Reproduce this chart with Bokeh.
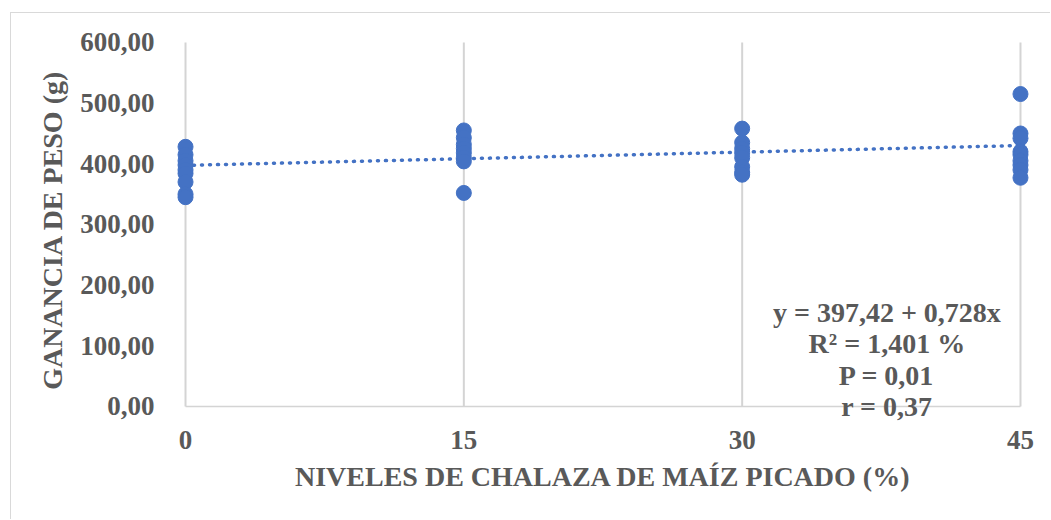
from bokeh.plotting import figure
from bokeh.models import Range1d, FixedTicker, Label
from bokeh.embed import file_html
from bokeh.resources import INLINE

# Weight gain (g) per level of chopped corn husk (%)
levels = [0, 15, 30, 45]
gain_0 = [428, 415, 405, 398, 390, 384, 370, 350, 345]
gain_15 = [455, 443, 432, 425, 418, 410, 404, 352]
gain_30 = [458, 435, 425, 418, 410, 395, 386, 382]
gain_45 = [515, 450, 442, 420, 415, 405, 398, 390, 377]

# Regression summary
intercept = 397.42
slope = 0.728
stats_lines = ["y = 397,42 + 0,728x", "R² = 1,401 %", "P = 0,01", "r = 0,37"]
stats_y = [155, 104, 51, 0]

y_ticks = [0, 100, 200, 300, 400, 500, 600]
y_tick_labels = ["0,00", "100,00", "200,00", "300,00", "400,00", "500,00", "600,00"]

TEXT = "#595959"
BLUE = "#4472C4"
GRID = "#d4d4d4"
FONT = "Liberation Serif"

xs, ys = [], []
for lvl, vals in zip(levels, [gain_0, gain_15, gain_30, gain_45]):
    xs += [lvl] * len(vals)
    ys += vals

# frame reaches a little below zero so the last summary line stays visible
p = figure(
    width=1040, height=507,
    output_backend="svg", toolbar_location=None,
    x_range=Range1d(-0.54, 45.54), y_range=Range1d(-29.7, 611.5),
    min_border_left=164, min_border_right=21, min_border_top=22, min_border_bottom=96,
    styles={"margin-left": "10px", "margin-top": "12px",
            "border-left": "1px solid #d9d9d9", "border-top": "1px solid #d9d9d9"},
)
p.outline_line_color = None
p.grid.visible = False

# vertical gridlines and horizontal axis line
p.segment(x0=levels, x1=levels, y0=[0] * 4, y1=[600] * 4, line_color=GRID, line_width=2)
p.segment(x0=[levels[0]], x1=[levels[-1]], y0=[0], y1=[0], line_color=GRID, line_width=1.5)

# linear trend
tx = [levels[0], levels[-1]]
ty = [intercept + slope * v for v in tx]
p.line(tx, ty, line_color=BLUE, line_width=3.5, line_dash="1 7", line_cap="round")

p.scatter(xs, ys, size=15, fill_color=BLUE, line_color=BLUE)

# regression summary
for txt, yy in zip(stats_lines, stats_y):
    p.add_layout(Label(x=37.8, y=yy, text=txt,
                       text_font=FONT, text_font_style="bold", text_font_size="28px",
                       text_color=TEXT, text_align="center", text_baseline="middle"))

for ax in (p.xaxis[0], p.yaxis[0]):
    ax.axis_line_color = None
    ax.major_tick_line_color = None
    ax.minor_tick_line_color = None
    ax.major_label_text_font = FONT
    ax.major_label_text_font_style = "bold"
    ax.major_label_text_font_size = "27px"
    ax.major_label_text_color = TEXT
    ax.axis_label_text_font = FONT
    ax.axis_label_text_font_style = "bold"
    ax.axis_label_text_font_size = "28px"
    ax.axis_label_text_color = TEXT

p.xaxis.ticker = FixedTicker(ticks=levels)
p.xaxis.major_label_standoff = 0
p.xaxis.axis_label = "NIVELES DE CHALAZA DE MAÍZ PICADO (%)"
p.xaxis.axis_label_standoff = 9

p.yaxis.ticker = FixedTicker(ticks=y_ticks)
p.yaxis.major_label_overrides = {t: s for t, s in zip(y_ticks, y_tick_labels)}
p.yaxis.major_label_standoff = 15
p.yaxis.axis_label = "GANANCIA DE PESO (g)"
p.yaxis.axis_label_standoff = 9

open("out.html", "w").write(file_html(p, INLINE))
